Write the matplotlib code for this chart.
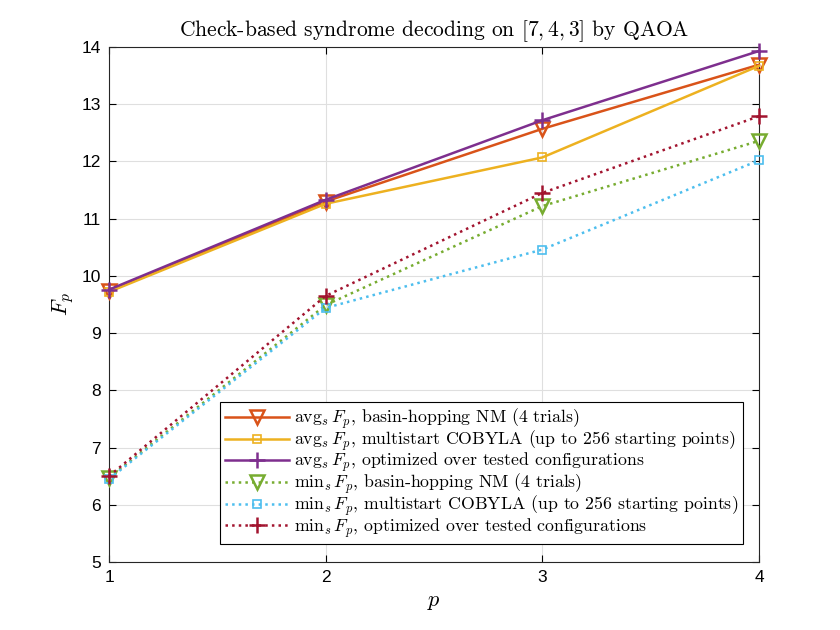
import matplotlib
matplotlib.use("Agg")
from matplotlib import pyplot as plt

plt.rcParams['mathtext.fontset'] = 'cm'
plt.rcParams['font.family'] = ['Liberation Sans', 'DejaVu Sans']

p = [1, 2, 3, 4]
avg_nm = [9.74, 11.30, 12.57, 13.69]
avg_cobyla = [9.72, 11.26, 12.07, 13.67]
avg_opt = [9.76, 11.33, 12.72, 13.93]
min_nm = [6.47, 9.49, 11.22, 12.36]
min_cobyla = [6.45, 9.44, 10.46, 12.02]
min_opt = [6.50, 9.65, 11.45, 12.79]

labels = [
    r"$\mathrm{avg}_s\,F_p$, basin-hopping NM (4 trials)",
    r"$\mathrm{avg}_s\,F_p$, multistart COBYLA (up to 256 starting points)",
    r"$\mathrm{avg}_s\,F_p$, optimized over tested configurations",
    r"$\mathrm{min}_s\,F_p$, basin-hopping NM (4 trials)",
    r"$\mathrm{min}_s\,F_p$, multistart COBYLA (up to 256 starting points)",
    r"$\mathrm{min}_s\,F_p$, optimized over tested configurations",
]

fig = plt.figure(figsize=(8.4, 6.3), dpi=100)
ax = fig.add_axes([109/840, 1-562/630, 650/840, 515/630])

kw = dict(lw=1.8, clip_on=False, zorder=3)
ax.plot(p, avg_nm, '-', color='#D95319', marker='v', ms=10, mfc='none', mew=1.8, label=labels[0], **kw)
ax.plot(p, avg_cobyla, '-', color='#EDB120', marker='s', ms=6, mfc='none', mew=1.2, label=labels[1], **kw)
ax.plot(p, avg_opt, '-', color='#7E2F8E', marker='+', ms=11, mew=1.8, label=labels[2], **kw)
ax.plot(p, min_nm, ':', color='#77AC30', marker='v', ms=10, mfc='none', mew=1.8, label=labels[3], **kw)
ax.plot(p, min_cobyla, ':', color='#4DBEEE', marker='s', ms=6, mfc='none', mew=1.2, label=labels[4], **kw)
ax.plot(p, min_opt, ':', color='#A2142F', marker='+', ms=11, mew=1.8, label=labels[5], **kw)

ax.set_xlim(1, 4)
ax.set_ylim(5, 14)
ax.set_xticks(p)
ax.set_yticks(range(5, 15))
ax.grid(True, color='#dfdfdf', lw=0.8)
ax.set_axisbelow(True)
ax.tick_params(direction='in', labelsize=12.5, top=True, right=True, length=5, pad=6)
for s in ax.spines.values():
    s.set_linewidth(0.8)
    s.set_color('#262626')

ax.set_xlabel(r"$p$", fontsize=16, labelpad=4)
ax.set_ylabel(r"$F_p$", fontsize=16, labelpad=4)
ax.set_title("Check-based syndrome decoding on $[7,4,3]$ by QAOA",
             fontfamily='cmr10', fontsize=15.5, pad=8)

leg = ax.legend(loc='lower right', bbox_to_anchor=(0.975, 0.035),
                prop={'family': 'cmr10', 'size': 12.8}, fancybox=False,
                edgecolor='black', framealpha=1, borderpad=0.25,
                labelspacing=-0.12, handlelength=3.6, handletextpad=0.3,
                borderaxespad=0)
leg.get_frame().set_linewidth(0.8)
leg.set_zorder(5)

fig.savefig("out.png", dpi=100)
